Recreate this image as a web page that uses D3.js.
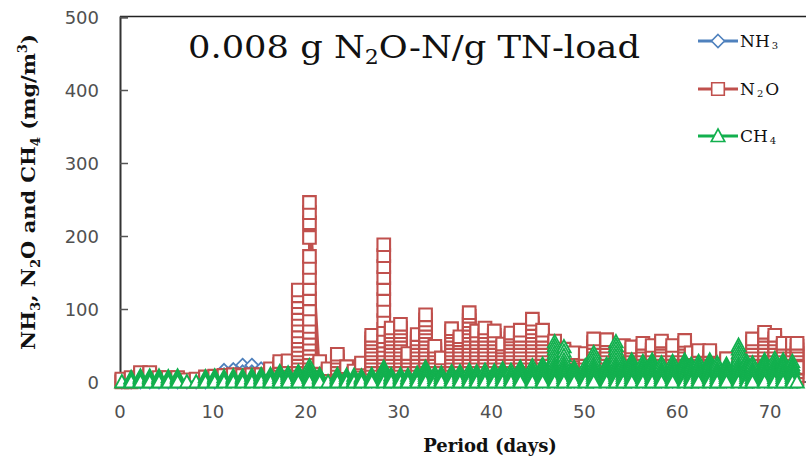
<!DOCTYPE html>
<html>
<head>
<meta charset="utf-8">
<script src="https://cdn.jsdelivr.net/npm/d3@7/dist/d3.min.js"></script>
<style>
  body { margin: 0; background: #fff; }
</style>
</head>
<body>
<svg id="chart" width="806" height="467"></svg>
<script>
//===================== Data =====================
// one measuring session per entry, time in days
var sessionDays = [0.2, 1.2, 2.2, 3.2, 4.2, 5.2, 6.2, 7.2, 8.2, 9.2,
  10.2, 11.2, 12.2, 13.2, 14.2, 15.2, 16.2, 17.2, 18.1, 19.2,
  20.4, 21.5, 22.4, 23.4, 24.4, 25.2, 26.0, 27.1, 28.4, 29.2,
  30.2, 31.0, 32.0, 32.9, 33.9, 34.6, 35.7, 36.6, 37.6, 38.4,
  39.3, 40.3, 41.2, 42.1, 43.1, 44.4, 45.5, 46.8, 47.8, 48.9,
  50.1, 51.0, 52.4, 53.4, 54.2, 55.1, 56.3, 57.3, 58.3, 59.5,
  60.8, 61.5, 62.3, 63.5, 64.3, 65.3, 66.6, 67.5, 68.1, 69.4,
  70.5, 71.4, 72.4, 72.9];

// readings inside each session, in the order they were logged (mg/m3)
var nh3Readings = [[0], [0], [0], [0], [0], [0], [0], [0], [0], [0, 2],
  [0, 3, 6, 8], [4, 8, 12, 16, 10], [6, 10, 14, 17, 10], [8, 12, 16, 20, 23, 14], [8, 12, 16, 20, 23, 14],
  [6, 10, 14, 18, 10], [4, 8, 12, 16, 8], [3, 6], [1], [1],
  [1], [1], [1], [1], [1], [1], [1], [1], [1], [1],
  [1], [1], [1], [1], [1], [1], [1], [1], [1], [1],
  [1], [1], [1], [1], [1], [1], [1], [1], [1], [1],
  [1], [1], [1], [1], [1], [1], [1], [1], [1], [1],
  [1], [1], [1], [1], [1], [1], [1], [1], [1], [1],
  [1], [1], [1], [1]];

var n2oReadings = [
  [0, 2, 4], [0, 2, 4, 6], [4, 7, 10, 13], [5, 8, 11, 13], [2, 4, 6],
  [2, 4, 6], [2, 4, 6], [1, 3], [1, 3, 4], [2, 5, 7],
  [2, 5, 8], [3, 6, 9], [3, 6, 10], [3, 6, 9], [3, 6, 10],
  [3, 6, 10], [4, 8, 12, 15, 18], [4, 8, 12, 16, 20, 24, 28], [4, 8, 12, 16, 20, 24, 29],
  [4, 9, 14, 19, 24, 29, 34, 39, 44, 50, 56, 62, 70, 78, 86, 94, 102, 110, 118, 126],
  [4, 9, 14, 19, 24, 29, 34, 40, 46, 52, 60, 68, 76, 86, 100, 114, 128, 143, 157, 172, 198, 218, 232, 246],
  [4, 9, 14, 19, 24, 28], [4, 9, 14, 18], [4, 9, 14, 19, 24, 29, 34, 38],
  [4, 9, 14, 18, 21], [4, 9, 12, 15], [4, 9, 14, 19, 23, 26],
  [4, 9, 14, 19, 24, 29, 34, 39, 44, 49, 54, 59, 64],
  [4, 9, 14, 19, 24, 29, 34, 39, 44, 50, 56, 62, 72, 84, 98, 113, 128, 143, 158, 173, 188],
  [4, 9, 14, 19, 24, 29, 34, 39, 44, 49, 54, 59, 64, 69, 74],
  [4, 9, 14, 19, 24, 29, 34, 39, 44, 49, 54, 59, 64, 69, 74, 79],
  [4, 9, 14, 19, 24, 29, 34, 39],
  [4, 9, 14, 19, 24, 29, 34, 39, 44, 49, 54, 59, 65],
  [4, 9, 14, 19, 24, 29, 34, 39, 44, 49, 54, 59, 64, 69, 74, 79, 85, 92],
  [4, 9, 14, 19, 24, 29, 34, 39, 44, 49],
  [4, 9, 14, 19, 24, 29, 33],
  [4, 9, 14, 19, 24, 29, 34, 39, 44, 49, 54, 59, 64, 69, 73],
  [4, 9, 14, 19, 24, 29, 34, 39, 44, 49, 54, 58, 62],
  [4, 9, 14, 19, 24, 29, 34, 39, 44, 49, 54, 59, 64, 69, 74, 79, 84, 90, 95],
  [4, 9, 14, 19, 24, 29, 34, 39, 44, 49, 54, 59, 64, 70],
  [4, 9, 14, 19, 24, 29, 34, 39, 44, 49, 54, 59, 64, 69, 74],
  [4, 9, 14, 19, 24, 29, 34, 39, 44, 49, 54, 59, 64, 70],
  [4, 9, 14, 19, 24, 29, 34, 39, 44, 48, 52],
  [4, 9, 14, 19, 24, 29, 34, 39, 44, 49, 54, 59, 63, 67],
  [4, 9, 14, 19, 24, 29, 34, 39, 44, 49, 54, 59, 64, 71],
  [4, 9, 14, 19, 24, 29, 34, 39, 44, 49, 54, 59, 64, 69, 74, 80, 86],
  [4, 9, 14, 19, 24, 29, 34, 39, 44, 49, 54, 59, 64, 71],
  [4, 9, 14, 19, 24, 29, 34, 39, 44, 49, 53, 56],
  [4, 9, 14, 19, 24, 29, 34, 39, 42, 45],
  [4, 9, 14, 19, 24, 29, 34, 37, 40],
  [4, 9, 14, 19, 24, 29, 34, 39],
  [4, 9, 14, 19, 24, 29, 34, 39, 44, 49, 54, 59],
  [4, 9, 14, 19, 24, 29, 34, 39, 44, 49, 54, 58],
  [4, 9, 14, 19, 24, 29, 33],
  [4, 9, 14, 19, 24, 29, 34, 39, 44, 50],
  [4, 9, 14, 19, 24, 29, 34, 39, 44, 48],
  [4, 9, 14, 19, 24, 29, 34, 39, 44, 49, 53],
  [4, 9, 14, 19, 24, 29, 34, 39, 44, 50],
  [4, 9, 14, 19, 24, 29, 34, 39, 44, 49, 53, 56],
  [4, 9, 14, 19, 24, 29, 34, 39, 44, 50],
  [4, 9, 14, 19, 24, 29, 34, 39, 44, 49, 53, 57],
  [4, 9, 14, 19, 24, 29, 34, 37, 40],
  [4, 9, 14, 19, 24, 29, 34, 39, 43],
  [4, 9, 14, 19, 24, 29, 34, 39, 43],
  [4, 9, 14, 19, 24],
  [4, 9, 14, 19, 24, 28, 32],
  [4, 9, 14, 19, 23],
  [4, 9, 14, 19, 24, 28, 32],
  [4, 9, 14, 19, 24, 29, 34, 39, 44, 49, 54, 59],
  [4, 9, 14, 19, 24, 29, 34, 39, 44, 49, 54, 59, 64, 68],
  [4, 9, 14, 19, 24, 29, 34, 39, 44, 49, 54, 59, 64],
  [4, 9, 14, 19, 24, 29, 34, 39, 44, 49, 53],
  [4, 9, 14, 19, 24, 29, 34, 39, 44, 49, 53],
  [4, 9, 14, 19, 24, 29, 34, 39, 44, 49, 53, 20]];

var ch4Readings = [
  [0], [6, 4, 2, 0], [8, 6, 4, 2, 0], [8, 6, 4, 2, 0], [8, 6, 4, 2, 0],
  [7, 4, 2, 0], [8, 6, 4, 2, 0], [0], [0], [7, 4, 2, 0],
  [8, 6, 4, 2, 0], [7, 4, 2, 0], [8, 6, 4, 2, 0], [8, 6, 4, 2, 0], [9, 6, 4, 2, 0],
  [10, 8, 6, 4, 2, 0], [10, 8, 6, 4, 2, 0], [14, 12, 9, 6, 3, 0], [12, 9, 6, 3, 0], [14, 12, 9, 6, 3, 0],
  [22, 18, 15, 12, 9, 6, 3, 0], [10, 8, 6, 4, 2, 0], [0], [10, 8, 6, 4, 2, 0], [9, 6, 4, 2, 0],
  [9, 6, 4, 2, 0], [8, 6, 4, 2, 0], [10, 8, 6, 4, 2, 0], [20, 18, 15, 12, 9, 6, 3, 0], [10, 8, 6, 4, 2, 0],
  [10, 8, 6, 4, 2, 0], [9, 6, 4, 2, 0], [12, 9, 6, 3, 0], [20, 18, 15, 12, 9, 6, 3, 0], [12, 9, 6, 3, 0],
  [12, 9, 6, 3, 0], [14, 12, 9, 6, 3, 0], [14, 12, 9, 6, 3, 0], [16, 12, 9, 6, 3, 0], [14, 12, 9, 6, 3, 0],
  [16, 12, 9, 6, 3, 0], [15, 12, 9, 6, 3, 0], [18, 15, 12, 9, 6, 3, 0], [16, 12, 9, 6, 3, 0], [20, 18, 15, 12, 9, 6, 3, 0],
  [22, 18, 15, 12, 9, 6, 3, 0], [24, 21, 18, 15, 12, 9, 6, 3, 0],
  [55, 50, 45, 40, 35, 30, 25, 21, 18, 15, 12, 9, 6, 3, 0],
  [48, 42, 36, 30, 25, 21, 18, 15, 12, 9, 6, 3, 0],
  [20, 18, 15, 12, 9, 6, 3, 0], [22, 18, 15, 12, 9, 6, 3, 0],
  [40, 35, 30, 25, 21, 18, 15, 12, 9, 6, 3, 0],
  [24, 21, 18, 15, 12, 9, 6, 3, 0],
  [55, 50, 45, 40, 35, 30, 25, 21, 18, 15, 12, 9, 6, 3, 0],
  [25, 21, 18, 15, 12, 9, 6, 3, 0], [30, 27, 24, 21, 18, 15, 12, 9, 6, 3, 0], [28, 24, 21, 18, 15, 12, 9, 6, 3, 0],
  [30, 27, 24, 21, 18, 15, 12, 9, 6, 3, 0], [26, 22, 18, 15, 12, 9, 6, 3, 0], [28, 24, 21, 18, 15, 12, 9, 6, 3, 0],
  [30, 27, 24, 21, 18, 15, 12, 9, 6, 3, 0], [24, 21, 18, 15, 12, 9, 6, 3, 0], [28, 24, 21, 18, 15, 12, 9, 6, 3, 0],
  [30, 27, 24, 21, 18, 15, 12, 9, 6, 3, 0], [26, 22, 18, 15, 12, 9, 6, 3, 0], [24, 21, 18, 15, 12, 9, 6, 3, 0],
  [50, 45, 40, 35, 30, 25, 21, 18, 15, 12, 9, 6, 3, 0],
  [28, 24, 21, 18, 15, 12, 9, 6, 3, 0], [26, 22, 18, 15, 12, 9, 6, 3, 0], [30, 27, 24, 21, 18, 15, 12, 9, 6, 3, 0],
  [32, 28, 24, 21, 18, 15, 12, 9, 6, 3, 0], [30, 27, 24, 21, 18, 15, 12, 9, 6, 3, 0], [28, 24, 21, 18, 15, 12, 9, 6, 3, 0],
  [0]];

var yTicks = [0, 100, 200, 300, 400, 500];
var xTicks = [0, 10, 20, 30, 40, 50, 60, 70];
//===================== End of Data =====================

var svg = d3.select("#chart");
var margin = { top: 17, left: 120, bottom: 85 };
var height = 467;

// plot area runs past the right edge of the picture (x axis goes to 80 days)
var x = d3.scaleLinear().domain([0, 80]).range([margin.left, 863]);
var y = d3.scaleLinear().domain([0, 500]).range([height - margin.bottom, margin.top]);

// flatten sessions into points
function toPoints(readings) {
  var pts = [];
  readings.forEach(function(vals, i) {
    vals.forEach(function(v) { pts.push({ day: sessionDays[i], value: v }); });
  });
  return pts;
}

var series = [
  { name: "NH3", color: "#4F81BD", points: toPoints(nh3Readings), marker: "M0,-6.5L6.5,0L0,6.5L-6.5,0Z", sw: 1.8 },
  { name: "N2O", color: "#C0504D", points: toPoints(n2oReadings), marker: "M-6.3,-6.3H6.3V6.3H-6.3Z", sw: 2.1 },
  { name: "CH4", color: "#12B04E", points: toPoints(ch4Readings), marker: "M0,-7L6.8,5.5H-6.8Z", sw: 1.8 }
];

//===================== Frame =====================
svg.append("line")
  .attr("x1", x(0)).attr("x2", 806)
  .attr("y1", y(500) - 0.5).attr("y2", y(500) - 0.5)
  .attr("stroke", "#222").attr("stroke-width", 1.5);

svg.append("line")
  .attr("x1", x(0)).attr("x2", 806)
  .attr("y1", y(0)).attr("y2", y(0))
  .attr("stroke", "#333").attr("stroke-width", 1.5);

// y axis with inside ticks
var yAxis = svg.append("g")
  .attr("transform", `translate(${x(0)},0)`)
  .call(d3.axisRight(y).tickValues(yTicks).tickSize(8).tickFormat(""));
yAxis.select(".domain").attr("stroke", "#333").attr("stroke-width", 2);
yAxis.selectAll(".tick line").attr("stroke", "#555").attr("stroke-width", 1.5);

svg.append("g").selectAll("text")
  .data(yTicks)
  .enter().append("text")
  .attr("x", 99)
  .attr("y", d => y(d) + 6.5)
  .attr("text-anchor", "end")
  .attr("font-family", "DejaVu Sans")
  .attr("font-size", "18px")
  .attr("fill", "#505050")
  .text(d => d);

svg.append("g").selectAll("text")
  .data(xTicks)
  .enter().append("text")
  .attr("x", d => x(d))
  .attr("y", 418)
  .attr("text-anchor", "middle")
  .attr("font-family", "DejaVu Sans")
  .attr("font-size", "18px")
  .attr("fill", "#505050")
  .text(d => d);

//===================== Series =====================
var line = d3.line()
  .x(d => x(d.day))
  .y(d => y(d.value));

series.forEach(function(s) {
  var g = svg.append("g");
  g.append("path")
    .datum(s.points)
    .attr("fill", "none")
    .attr("stroke", s.color)
    .attr("stroke-width", 3)
    .attr("stroke-linejoin", "round")
    .attr("d", line);
  g.selectAll("path.mark")
    .data(s.points)
    .enter().append("path")
    .attr("class", "mark")
    .attr("transform", d => `translate(${x(d.day)},${y(d.value)})`)
    .attr("d", s.marker)
    .attr("fill", "#fff")
    .attr("stroke", s.color)
    .attr("stroke-width", s.sw);
});

//===================== Legend =====================
var legendRows = [
  { s: series[0], y: 41, main: ["NH", "3"] },
  { s: series[1], y: 89, main: ["N", "2", "O"] },
  { s: series[2], y: 136, main: ["CH", "4"] }
];
legendRows.forEach(function(r) {
  svg.append("line")
    .attr("x1", 698).attr("x2", 738)
    .attr("y1", r.y).attr("y2", r.y)
    .attr("stroke", r.s.color).attr("stroke-width", 3);
  svg.append("path")
    .attr("transform", `translate(718,${r.y})`)
    .attr("d", r.s.marker)
    .attr("fill", "#fff")
    .attr("stroke", r.s.color)
    .attr("stroke-width", 1.6);
  var t = svg.append("text")
    .attr("x", 740).attr("y", r.y + 6)
    .attr("font-family", "DejaVu Serif")
    .attr("font-size", "17px")
    .attr("fill", "#111");
  t.append("tspan").text(r.main[0]);
  t.append("tspan").attr("font-size", "10px").attr("dx", 2).attr("dy", 2).text(r.main[1]);
  if (r.main[2]) t.append("tspan").attr("dx", 2).attr("dy", -2).text(r.main[2]);
});

//===================== Titles =====================
var title = svg.append("text")
  .attr("x", 188).attr("y", 58)
  .attr("font-family", "DejaVu Serif")
  .attr("font-size", "32px")
  .attr("fill", "#111")
  .attr("textLength", 452)
  .attr("lengthAdjust", "spacingAndGlyphs");
title.append("tspan").text("0.008 g N");
title.append("tspan").attr("font-size", "20px").attr("dy", 6).text("2");
title.append("tspan").attr("dy", -6).text("O-N/g TN-load");

var yTitle = svg.append("text")
  .attr("transform", "translate(35,192) rotate(-90)")
  .attr("text-anchor", "middle")
  .attr("font-family", "DejaVu Serif")
  .attr("font-weight", "bold")
  .attr("font-size", "19px")
  .attr("fill", "#111")
  .attr("textLength", 316)
  .attr("lengthAdjust", "spacingAndGlyphs");
yTitle.append("tspan").text("NH");
yTitle.append("tspan").attr("font-size", "12px").attr("dy", 5).text("3");
yTitle.append("tspan").attr("dy", -5).text(", N");
yTitle.append("tspan").attr("font-size", "12px").attr("dy", 5).text("2");
yTitle.append("tspan").attr("dy", -5).text("O and CH");
yTitle.append("tspan").attr("font-size", "12px").attr("dy", 5).text("4");
yTitle.append("tspan").attr("dy", -5).text(" (mg/m");
yTitle.append("tspan").attr("font-size", "12px").attr("dy", -8).text("3");
yTitle.append("tspan").attr("dy", 8).text(")");

svg.append("text")
  .attr("x", 490).attr("y", 452)
  .attr("text-anchor", "middle")
  .attr("font-family", "DejaVu Serif")
  .attr("font-weight", "bold")
  .attr("font-size", "18px")
  .attr("fill", "#111")
  .text("Period (days)");
</script>
</body>
</html>
